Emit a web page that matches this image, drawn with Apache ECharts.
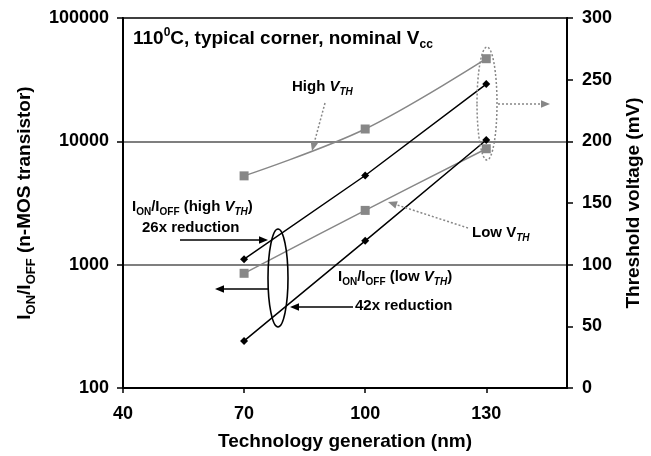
<!DOCTYPE html>
<html><head><meta charset="utf-8">
<script src="https://cdn.jsdelivr.net/npm/echarts@6/dist/echarts.min.js"></script>
<style>html,body{margin:0;padding:0;background:#fff}#c{width:651px;height:456px}</style>
</head><body><div id="c"></div>
<script>
// ---- data ----
const techNodes = [70, 100, 130];
const ratioHighVth = [1107, 5284, 29100];
const ratioLowVth = [241, 1560, 10260];
const vthHigh = [172, 210, 267];
const vthLow = [93, 144, 194];
const xTickValues = [40, 70, 100, 130];
const xRange = [40, 150];
const ratioRange = [100, 100000];
const vthRange = [0, 300];
const vthInterval = 50;

const FONT = '"Liberation Sans", Arial, Helvetica, sans-serif';
const GRAY = '#878787';
const chart = echarts.init(document.getElementById('c'), null, {renderer: 'canvas'});

function pairs(xs, ys) { return xs.map((x, i) => [x, ys[i]]); }

function richSet(fs, subFs, lh) {
  const b = {fontFamily: FONT, fontWeight: 'bold', color: '#000', fill: '#000'};
  return {
    n: Object.assign({}, b, {fontSize: fs, lineHeight: lh}),
    i: Object.assign({}, b, {fontSize: fs, lineHeight: lh, fontStyle: 'italic'}),
    s: Object.assign({}, b, {fontSize: subFs, lineHeight: subFs, verticalAlign: 'bottom'}),
    si: Object.assign({}, b, {fontSize: subFs, lineHeight: subFs, verticalAlign: 'bottom', fontStyle: 'italic'}),
    sup: Object.assign({}, b, {fontSize: subFs, lineHeight: subFs, verticalAlign: 'top'})
  };
}

function arrow(x1, y1, x2, y2, color, dashed) {
  const a = Math.atan2(y2 - y1, x2 - x1), L = 9, W = 3.8;
  const c = Math.cos(a), s = Math.sin(a);
  const bx = x2 - L * c, by = y2 - L * s;
  return [
    {type: 'line', z: 100, shape: {x1: x1, y1: y1, x2: bx, y2: by},
     style: {stroke: color, lineWidth: 1.5, lineDash: dashed ? [2, 2] : null}},
    {type: 'polygon', z: 100, shape: {points: [[x2, y2], [bx + W * s, by - W * c], [bx - W * s, by + W * c]]},
     style: {fill: color}}
  ];
}

function label(x, y, text, fs, subFs, lh) {
  return {type: 'text', z: 100, x: x, y: y,
    style: {text: text, rich: richSet(fs, subFs, lh), align: 'left', verticalAlign: 'middle'}};
}

const axisText = {fontFamily: FONT, fontWeight: 'bold', fontSize: 18, color: '#000'};
const nameText = {fontFamily: FONT, fontWeight: 'bold', fontSize: 19, color: '#000'};

const graphics = [].concat(
  [label(133, 39, '{n|110}{sup|0}{n|C, typical corner, nominal V}{s|cc}', 19, 12, 24)],
  [label(292, 87, '{n|High }{i|V}{si|TH}', 15, 10, 20)],
  arrow(325, 103, 312, 151, GRAY, true),
  [{type: 'ellipse', z: 100, shape: {cx: 487, cy: 103.5, rx: 10, ry: 56.5},
    style: {fill: null, stroke: GRAY, lineWidth: 1.5, lineDash: [2, 2]}}],
  arrow(498, 104, 550, 104, GRAY, true),
  [label(472, 233, '{n|Low V}{si|TH}', 15, 10, 20)],
  arrow(468, 228, 388, 202, GRAY, true),
  [label(132, 207, '{n|I}{s|ON}{n|/I}{s|OFF}{n| (high }{i|V}{si|TH}{n|)}', 15, 10, 20)],
  [label(142, 228, '{n|26x reduction}', 15, 10, 20)],
  arrow(180, 240, 268, 240, '#000', false),
  [{type: 'ellipse', z: 100, shape: {cx: 278, cy: 278, rx: 10, ry: 49},
    style: {fill: null, stroke: '#000', lineWidth: 1.6}}],
  arrow(268, 289, 215, 289, '#000', false),
  [label(338, 277, '{n|I}{s|ON}{n|/I}{s|OFF}{n| (low }{i|V}{si|TH}{n|)}', 15, 10, 20)],
  [label(355, 306, '{n|42x reduction}', 15, 10, 20)],
  arrow(353, 307, 290, 307, '#000', false)
);

const option = {
  animation: false,
  backgroundColor: '#fff',
  grid: {left: 123, right: 83, top: 18, bottom: 66, show: true, borderColor: '#000', borderWidth: 2},
  xAxis: {
    type: 'value', min: xRange[0], max: xRange[1],
    axisLine: {show: true, lineStyle: {color: '#000', width: 2}},
    axisTick: {show: true, customValues: xTickValues, length: 5, lineStyle: {color: '#000', width: 1.5}},
    axisLabel: Object.assign({customValues: xTickValues, margin: 17}, axisText),
    splitLine: {show: false},
    name: 'Technology generation (nm)', nameLocation: 'middle', nameGap: 44,
    nameTextStyle: nameText
  },
  yAxis: [
    {
      type: 'log', logBase: 10, min: ratioRange[0], max: ratioRange[1], position: 'left',
      axisLine: {show: true, lineStyle: {color: '#000', width: 2}},
      axisTick: {show: true, length: 6, lineStyle: {color: '#000', width: 1.5}},
      axisLabel: Object.assign({margin: 14, formatter: v => String(Math.round(v))}, axisText),
      splitLine: {show: true, lineStyle: {color: '#555', width: 1.5}},
      minorTick: {show: false}, minorSplitLine: {show: false},
      name: '{n|I}{s|ON}{n|/I}{s|OFF}{n| (n-MOS transistor)}',
      nameLocation: 'middle', nameGap: 84,
      nameTextStyle: Object.assign({rich: richSet(19, 13, 26)}, nameText)
    },
    {
      type: 'value', min: vthRange[0], max: vthRange[1], interval: vthInterval, position: 'right',
      axisLine: {show: true, lineStyle: {color: '#000', width: 2}},
      axisTick: {show: true, length: 6, lineStyle: {color: '#000', width: 1.5}},
      axisLabel: Object.assign({margin: 15}, axisText),
      splitLine: {show: false},
      name: 'Threshold voltage (mV)', nameLocation: 'middle', nameGap: 57,
      nameTextStyle: nameText
    }
  ],
  series: [
    {type: 'line', name: 'Ion/Ioff high VTH', yAxisIndex: 0, data: pairs(techNodes, ratioHighVth),
     symbol: 'diamond', symbolSize: 8, z: 5,
     lineStyle: {color: '#000', width: 1.5}, itemStyle: {color: '#000'}},
    {type: 'line', name: 'Ion/Ioff low VTH', yAxisIndex: 0, data: pairs(techNodes, ratioLowVth),
     symbol: 'diamond', symbolSize: 8, z: 5,
     lineStyle: {color: '#000', width: 1.5}, itemStyle: {color: '#000'}},
    {type: 'line', name: 'High VTH', yAxisIndex: 1, data: pairs(techNodes, vthHigh),
     symbol: 'rect', symbolSize: 9, smooth: 0.35, z: 4,
     lineStyle: {color: GRAY, width: 1.5}, itemStyle: {color: GRAY}},
    {type: 'line', name: 'Low VTH', yAxisIndex: 1, data: pairs(techNodes, vthLow),
     symbol: 'rect', symbolSize: 9, smooth: 0.35, z: 4,
     lineStyle: {color: GRAY, width: 1.5}, itemStyle: {color: GRAY}}
  ],
  graphic: graphics
};
chart.setOption(option);
</script>
</body></html>
